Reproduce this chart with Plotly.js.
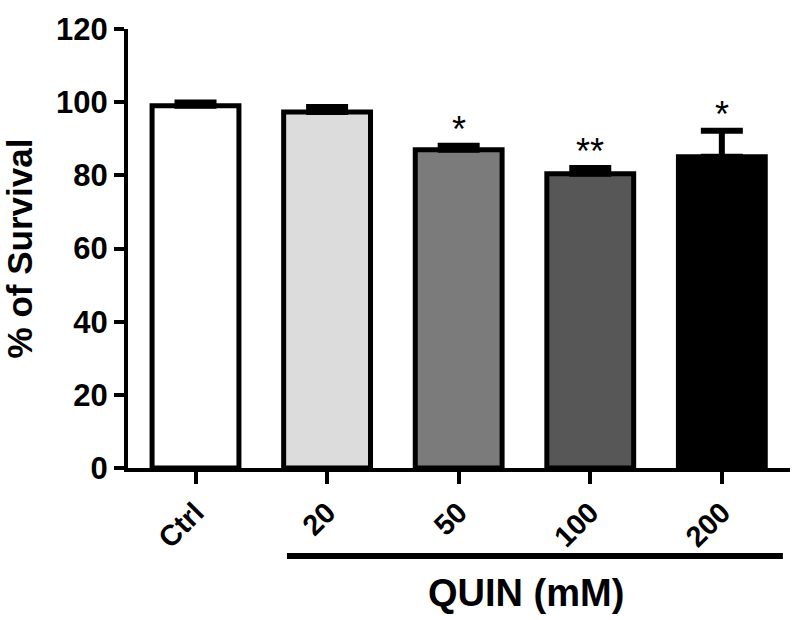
<!DOCTYPE html>
<html>
<head>
<meta charset="utf-8">
<script src="https://cdn.plot.ly/plotly-3.0.1.min.js"></script>
<style>
  html, body { margin: 0; padding: 0; background: #fff; }
  #chart { width: 800px; height: 620px; }
</style>
</head>
<body>
<div id="chart"></div>
<script>
// Survival data
const groups = ['Ctrl', '20', '50', '100', '200'];
const survival = [99.0, 97.3, 87.0, 80.4, 85.1];
const sem = [0.9, 1.4, 1.1, 1.6, 7.1];
const stars = ['', '', '*', '**', '*'];
const barColors = ['#ffffff', '#dcdcdc', '#7b7b7b', '#575757', '#000000'];
const yTicks = [0, 20, 40, 60, 80, 100, 120];

const boldFont = { family: 'Liberation Sans, Arial, sans-serif', color: '#000', weight: 'bold' };

const bars = {
    x: groups,
    y: survival,
    type: 'bar',
    width: 0.66,
    marker: {
        color: barColors,
        line: { color: '#000', width: 5 }
    },
    error_y: {
        type: 'data',
        array: sem,
        arrayminus: sem.map(() => 0),
        symmetric: false,
        color: '#000',
        thickness: 6,
        width: 21
    },
    hoverinfo: 'none',
    showlegend: false
};

// asterisks above the error bars (x given as category index)
const starNotes = [];
stars.forEach((s, i) => {
    if (!s) return;
    starNotes.push({
        x: i,
        y: survival[i] + sem[i],
        xref: 'x',
        yref: 'y',
        text: s,
        showarrow: false,
        yanchor: 'bottom',
        yshift: -6,
        font: { family: 'Liberation Sans, Arial, sans-serif', color: '#000', size: 36 }
    });
});

const layout = {
    width: 800,
    height: 620,
    paper_bgcolor: '#fff',
    plot_bgcolor: '#fff',
    margin: { l: 128, r: 10, t: 29, b: 152 },
    xaxis: {
        type: 'category',
        range: [-0.513, 4.518],
        showline: true,
        linecolor: '#000',
        linewidth: 4,
        ticks: 'outside',
        ticklen: 12,
        tickwidth: 4,
        tickcolor: '#000',
        tickangle: -45,
        tickfont: Object.assign({}, boldFont, { size: 29 }),
        showgrid: false,
        zeroline: false,
        fixedrange: true
    },
    yaxis: {
        range: [0, 120],
        tickvals: yTicks,
        showline: true,
        linecolor: '#000',
        linewidth: 4,
        ticks: 'outside',
        ticklen: 10,
        tickwidth: 4,
        tickcolor: '#000',
        tickfont: Object.assign({}, boldFont, { size: 31 }),
        showgrid: false,
        zeroline: false,
        title: {
            text: '% of Survival',
            font: Object.assign({}, boldFont, { size: 35 }),
            standoff: 18
        },
        fixedrange: true
    },
    shapes: [{
        type: 'line',
        xref: 'x',
        yref: 'paper',
        x0: 0.695, x1: 4.464,
        y0: -0.2005, y1: -0.2005,
        line: { color: '#000', width: 6 }
    }],
    annotations: starNotes.concat([{
        x: 2.51,
        y: -0.285,
        xref: 'x',
        yref: 'paper',
        text: 'QUIN (mM)',
        showarrow: false,
        xanchor: 'center',
        yanchor: 'middle',
        font: Object.assign({}, boldFont, { size: 38 })
    }])
};

Plotly.newPlot('chart', [bars], layout, { displayModeBar: false, staticPlot: true });
</script>
</body>
</html>
